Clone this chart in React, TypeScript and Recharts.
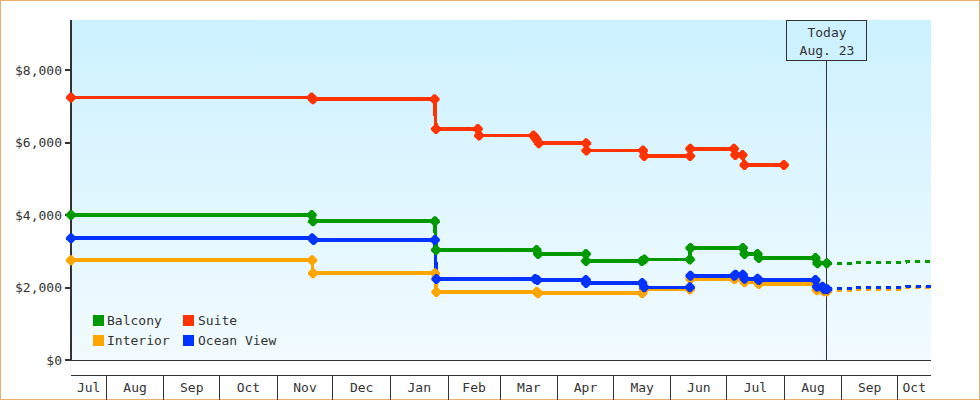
import React from "react";
import { LineChart, Line, XAxis, YAxis, ReferenceArea, ReferenceLine, Legend } from "recharts";

const FONT = '"DejaVu Sans Mono", monospace';
const INK = "#333333";

const monthStarts = [19, 50, 80, 111, 141, 172, 203, 231, 262, 292, 323, 353, 384, 415, 445];
const monthCentres = [9.5, 34.5, 65, 95.5, 126, 156.5, 187.5, 217, 246.5, 277, 307.5, 338, 368.5, 399.5, 430, 454];
const monthLabels = ["Jul", "Aug", "Sep", "Oct", "Nov", "Dec", "Jan", "Feb", "Mar", "Apr", "May", "Jun", "Jul", "Aug", "Sep", "Oct"];
const priceTicks = [0, 2000, 4000, 6000, 8000];
const todayDay = 407;

const suiteDays = [0, 129.5, 130.3, 195.7, 196.5, 219, 219.7, 249, 249.9, 250.7, 251.9, 277.3, 277.5, 307.9, 308.6, 333.3, 333.4, 356.9, 357.6, 361.5, 362.6, 383.8];
const suitePrices = [7250, 7250, 7203, 7203, 6378, 6378, 6201, 6201, 6137, 6082, 5986, 5986, 5787, 5787, 5632, 5632, 5834, 5834, 5660, 5660, 5384, 5384];

const balconyDays = [0, 129.6, 130.3, 195.9, 196.5, 250.6, 251.5, 277.2, 277.3, 307.3, 308.7, 333.2, 333.5, 361.7, 362.6, 369.6, 370.3, 400.8, 401.9, 406.9];
const balconyPrices = [4003, 4003, 3835, 3835, 3037, 3037, 2927, 2927, 2733, 2733, 2778, 2778, 3092, 3092, 2927, 2927, 2816, 2816, 2673, 2673];
const balconyFutureDays = [406.9, 422.2, 422.3, 449.6, 449.7, 463];
const balconyFuturePrices = [2673, 2673, 2706, 2706, 2733, 2733];

const oceanDays = [0, 129.8, 130.6, 195.9, 196.7, 249.9, 251.1, 277.2, 277.3, 307.5, 308.6, 333.2, 333.5, 357, 357.8, 361.7, 362.6, 369.6, 370.3, 400.8, 401.6, 404.6, 405.5, 407.1];
const oceanPrices = [3363, 3363, 3313, 3313, 2236, 2236, 2209, 2209, 2126, 2126, 2007, 2007, 2327, 2327, 2355, 2355, 2245, 2245, 2209, 2209, 2024, 2024, 1955, 1955];
const oceanFutureDays = [407.1, 422.2, 422.3, 449.6, 449.7, 463];
const oceanFuturePrices = [1977, 1977, 2004, 2004, 2032, 2032];

const interiorDays = [0, 129.8, 130.3, 195.9, 196.7, 250.7, 251.5, 307.5, 308.6, 333.2, 333.5, 357, 357.8, 361.7, 362.6, 369.6, 370.3, 400.8, 401.6, 404.6, 405.5, 407.1];
const interiorPrices = [2755, 2755, 2399, 2399, 1877, 1877, 1844, 1844, 1949, 1949, 2236, 2236, 2258, 2258, 2148, 2148, 2098, 2098, 1927, 1927, 1899, 1899];
const interiorFutureDays = [407.1, 422.2, 422.3, 449.6, 449.7, 463];
const interiorFuturePrices = [1927, 1927, 1955, 1955, 1996, 2015];

const zip = (days: number[], prices: number[]) => days.map((day, i) => ({ day, price: prices[i] }));

const series = [
  { name: "Interior", color: "#FFA500", rows: zip(interiorDays, interiorPrices), future: zip(interiorFutureDays, interiorFuturePrices) },
  { name: "Suite", color: "#FF3300", rows: zip(suiteDays, suitePrices), future: null },
  { name: "Ocean View", color: "#0033FF", rows: zip(oceanDays, oceanPrices), future: zip(oceanFutureDays, oceanFuturePrices) },
  { name: "Balcony", color: "#009900", rows: zip(balconyDays, balconyPrices), future: zip(balconyFutureDays, balconyFuturePrices) },
];

const legendItems = [
  { name: "Balcony", color: "#009900", left: 0, top: 0, textLeft: 14 },
  { name: "Suite", color: "#FF3300", left: 90, top: 0, textLeft: 15 },
  { name: "Interior", color: "#FFA500", left: 0, top: 20, textLeft: 14 },
  { name: "Ocean View", color: "#0033FF", left: 90, top: 20, textLeft: 15 },
];

const Diamond = (color: string) => (props: any) => {
  const { cx, cy, key } = props;
  if (cx == null || cy == null) return <g key={key} />;
  const r = 5;
  const c = 1;
  return (
    <path
      key={key}
      fill={color}
      stroke="none"
      d={`M${cx - r},${cy - c}L${cx - c},${cy - r}L${cx + c},${cy - r}L${cx + r},${cy - c}L${cx + r},${cy + c}L${cx + c},${cy + r}L${cx - c},${cy + r}L${cx - r},${cy + c}Z`}
    />
  );
};

const TodayBox = (props: any) => {
  const { x, y } = props.viewBox;
  return (
    <g fontFamily={FONT} fontSize={13} fill={INK} textAnchor="middle">
      <rect x={x - 40} y={y} width={80} height={40.5} fill="#CDF1FF" stroke={INK} strokeWidth={1} shapeRendering="crispEdges" />
      <text x={x} y={y + 17} stroke="none">Today</text>
      <text x={x} y={y + 35} stroke="none">Aug. 23</text>
    </g>
  );
};

const MonthTick = (props: any) => {
  const value = props.payload.value;
  const i = monthCentres.indexOf(value);
  if (i >= 0) {
    return (
      <text x={props.x} y={props.y + 17} textAnchor="middle" fill={INK} fontFamily={FONT} fontSize={13}>
        {monthLabels[i]}
      </text>
    );
  }
  return <line x1={props.x} x2={props.x} y1={props.y} y2={props.y + 25} stroke={INK} strokeWidth={1} shapeRendering="crispEdges" />;
};

const LegendBox = () => (
  <div style={{ position: "relative", width: 200, height: 40, fontFamily: FONT, fontSize: 13, color: INK }}>
    {legendItems.map((it) => (
      <div key={it.name} style={{ position: "absolute", left: it.left, top: it.top, height: 11, lineHeight: "11px", whiteSpace: "nowrap" }}>
        <span style={{ position: "absolute", left: 0, top: 0, width: 11, height: 11, background: it.color }} />
        <span style={{ position: "absolute", left: it.textLeft, top: 0 }}>{it.name}</span>
      </div>
    ))}
  </div>
);

export default function App() {
  return (
    <div style={{ position: "absolute", left: 0, top: 0, width: 980, height: 400, background: "#fff", boxShadow: "inset 0 0 0 1px #EBAD6C" }}>
      <LineChart width={980} height={400} margin={{ top: 20, right: 49, bottom: 0, left: 0 }}>
        <defs>
          <linearGradient id="sky" x1="0" y1="0" x2="0" y2="1">
            <stop offset="0" stopColor="#CCF1FF" />
            <stop offset="1" stopColor="#F2FBFF" />
          </linearGradient>
        </defs>
        <XAxis
          xAxisId="months"
          dataKey="day"
          type="number"
          domain={[0, 463]}
          ticks={[...monthStarts, ...monthCentres].sort((a, b) => a - b)}
          height={25}
          tick={<MonthTick />}
          tickLine={false}
          tickSize={0}
          tickMargin={0}
          axisLine={{ stroke: INK, strokeWidth: 1, shapeRendering: "crispEdges" }}
          interval={0}
        />
        <XAxis
          xAxisId="baseline"
          dataKey="day"
          type="number"
          domain={[0, 463]}
          ticks={[]}
          height={15}
          tick={false}
          tickLine={false}
          axisLine={{ stroke: INK, strokeWidth: 1, shapeRendering: "crispEdges" }}
        />
        <YAxis
          dataKey="price"
          type="number"
          domain={[0, 9390]}
          ticks={priceTicks}
          width={71}
          interval={0}
          tickSize={6}
          tickMargin={3}
          tickLine={{ stroke: INK, strokeWidth: 2, shapeRendering: "crispEdges" }}
          axisLine={{ stroke: INK, strokeWidth: 2, shapeRendering: "crispEdges" }}
          tick={{ fill: INK, fontFamily: FONT, fontSize: 13 }}
          tickFormatter={(v: number) => "$" + v.toLocaleString("en-US")}
        />
        <ReferenceArea xAxisId="months" x1={0.5} x2={463} y1={0} y2={9390} fill="url(#sky)" fillOpacity={1} stroke="none" />
        <ReferenceLine xAxisId="months" x={todayDay} stroke={INK} strokeWidth={1} shapeRendering="crispEdges" label={<TodayBox />} />
        {series.map((s) =>
          s.future ? (
            <Line key={s.name + "-future"} xAxisId="months" data={s.future} dataKey="price" type="linear" stroke={s.color} strokeWidth={3} strokeDasharray="5 5" shapeRendering="crispEdges" dot={false} legendType="none" isAnimationActive={false} />
          ) : null
        )}
        {series.map((s) => (
          <Line key={s.name} name={s.name} xAxisId="months" data={s.rows} dataKey="price" type="linear" stroke={s.color} strokeWidth={3.6} shapeRendering="crispEdges" dot={false} isAnimationActive={false} />
        ))}
        {series.map((s) => (
          <Line key={s.name + "-marks"} xAxisId="months" data={s.rows} dataKey="price" type="linear" stroke="none" dot={Diamond(s.color)} legendType="none" isAnimationActive={false} />
        ))}
        <Legend layout="horizontal" verticalAlign="middle" content={<LegendBox />} wrapperStyle={{ position: "absolute", left: 93, top: 315, width: 200, height: 40, bottom: "auto", right: "auto" }} />
      </LineChart>
    </div>
  );
}
